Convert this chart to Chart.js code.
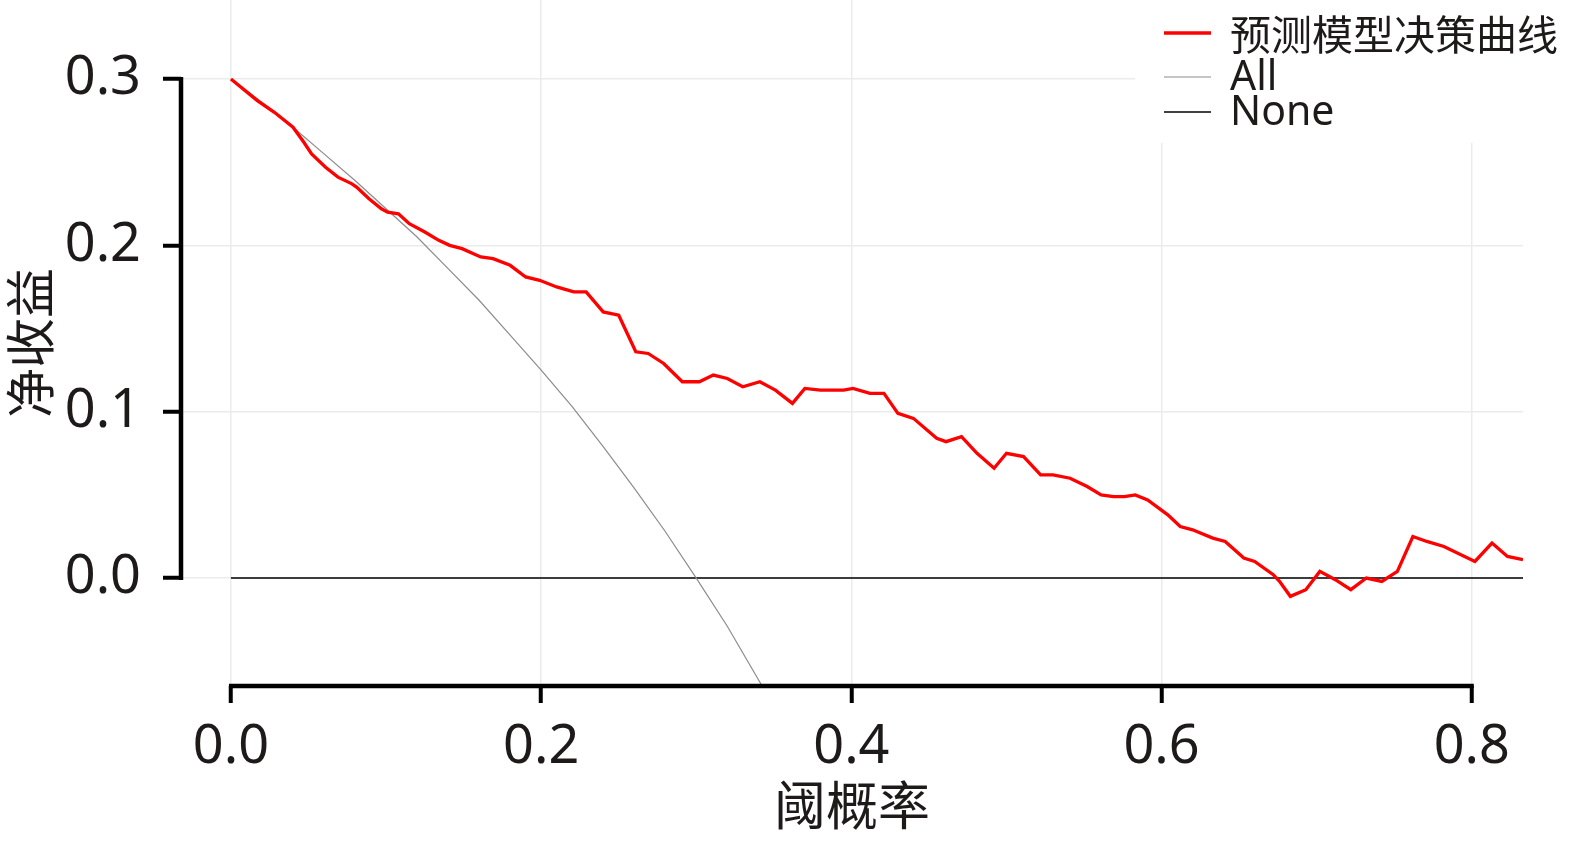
<!DOCTYPE html>
<html>
<head>
<meta charset="utf-8">
<script src="https://cdn.jsdelivr.net/npm/chart.js@4.4.0/dist/chart.umd.min.js"></script>
<style>
    html, body { margin: 0; padding: 0; background: #fff; }
    #wrap { width: 1571px; height: 845px; }
</style>
</head>
<body>
<div id="wrap"><canvas id="dcaChart" width="1571" height="845"></canvas></div>
<script>
// Decision curve values
const thresholds = [0.000, 0.017, 0.028, 0.040, 0.047, 0.052, 0.061, 0.069, 0.078, 0.081,
    0.089, 0.097, 0.101, 0.108, 0.115, 0.125, 0.134, 0.141, 0.149, 0.161,
    0.169, 0.180, 0.190, 0.199, 0.210, 0.221, 0.229, 0.240, 0.250, 0.261,
    0.269, 0.279, 0.291, 0.302, 0.311, 0.320, 0.330, 0.341, 0.351, 0.362,
    0.370, 0.380, 0.395, 0.401, 0.412, 0.421, 0.430, 0.440, 0.455, 0.461,
    0.471, 0.481, 0.492, 0.500, 0.511, 0.522, 0.530, 0.541, 0.552, 0.561,
    0.569, 0.576, 0.583, 0.591, 0.604, 0.612, 0.620, 0.633, 0.641, 0.653,
    0.660, 0.672, 0.676, 0.683, 0.693, 0.702, 0.712, 0.722, 0.732, 0.742,
    0.752, 0.762, 0.771, 0.782, 0.802, 0.813, 0.823, 0.833];
const modelBenefit = [0.300, 0.287, 0.280, 0.271, 0.262, 0.255, 0.247, 0.241, 0.237, 0.235,
    0.228, 0.222, 0.220, 0.219, 0.213, 0.208, 0.203, 0.200, 0.198, 0.193,
    0.192, 0.188, 0.181, 0.179, 0.175, 0.172, 0.172, 0.160, 0.158, 0.136,
    0.135, 0.129, 0.118, 0.118, 0.122, 0.120, 0.115, 0.118, 0.113, 0.105,
    0.114, 0.113, 0.113, 0.114, 0.111, 0.111, 0.099, 0.096, 0.084, 0.082,
    0.085, 0.075, 0.066, 0.075, 0.073, 0.062, 0.062, 0.060, 0.055, 0.050,
    0.049, 0.049, 0.050, 0.047, 0.038, 0.031, 0.029, 0.024, 0.022, 0.012,
    0.010, 0.002, -0.002, -0.011, -0.007, 0.004, -0.001, -0.007, 0.000, -0.002,
    0.004, 0.025, 0.022, 0.019, 0.010, 0.021, 0.013, 0.011];

const allX = [0.00, 0.02, 0.04, 0.06, 0.08, 0.10, 0.12, 0.14, 0.16, 0.18,
    0.20, 0.22, 0.24, 0.26, 0.28, 0.30, 0.32, 0.34, 0.35];
const allBenefit = [0.300, 0.286, 0.271, 0.255, 0.239, 0.222, 0.205, 0.186, 0.167, 0.146,
    0.125, 0.103, 0.079, 0.054, 0.028, 0.000, -0.029, -0.061, -0.077];

const noneX = [0.0, 0.833];
const noneBenefit = [0.0, 0.0];

const xTicks = [0.0, 0.2, 0.4, 0.6, 0.8];
const yTicks = [0.0, 0.1, 0.2, 0.3];
const seriesLabels = ['预测模型决策曲线', 'All', 'None'];

const toPoints = (xs, ys) => xs.map((x, i) => ({ x: x, y: ys[i] }));

const latinFont = '"Noto Sans", "Noto Sans CJK SC", sans-serif';
const cjkFont = '"Noto Sans CJK SC", "Noto Sans", sans-serif';
const textColor = '#1e1a1a';

// trimmed spines like seaborn despine(trim=True)
const spinePlugin = {
    id: 'spines',
    afterDatasetsDraw(chart) {
        const { ctx, scales: { x, y }, chartArea } = chart;
        ctx.save();
        ctx.strokeStyle = '#000';
        ctx.lineWidth = 4.5;
        ctx.lineCap = 'butt';
        ctx.beginPath();
        ctx.moveTo(chartArea.left, y.getPixelForValue(yTicks[yTicks.length - 1]) - 2);
        ctx.lineTo(chartArea.left, y.getPixelForValue(yTicks[0]) + 2);
        ctx.moveTo(x.getPixelForValue(xTicks[0]) - 2, chartArea.bottom);
        ctx.lineTo(x.getPixelForValue(xTicks[xTicks.length - 1]) + 2, chartArea.bottom);
        ctx.stroke();
        ctx.restore();
    }
};

const legendPlugin = {
    id: 'cornerLegend',
    afterDatasetsDraw(chart) {
        const ctx = chart.ctx;
        const rows = [33, 77, 112];
        ctx.save();
        ctx.fillStyle = '#fff';
        ctx.fillRect(1135, 0, 436, 143);
        chart.data.datasets.forEach((ds, i) => {
            ctx.strokeStyle = ds.borderColor;
            ctx.lineWidth = ds.borderWidth;
            ctx.beginPath();
            ctx.moveTo(1164, rows[i]);
            ctx.lineTo(1211, rows[i]);
            ctx.stroke();
            ctx.fillStyle = textColor;
            ctx.font = '41px ' + (i === 0 ? cjkFont : latinFont);
            ctx.textBaseline = 'middle';
            ctx.textAlign = 'left';
            ctx.fillText(ds.label, 1230, rows[i] + 1);
        });
        ctx.restore();
    }
};

const ctx = document.getElementById('dcaChart').getContext('2d');
new Chart(ctx, {
    type: 'line',
    data: {
        datasets: [{
            label: seriesLabels[0],
            data: toPoints(thresholds, modelBenefit),
            borderColor: '#ff0000',
            borderWidth: 3.3,
            pointRadius: 0,
            tension: 0
        }, {
            label: seriesLabels[1],
            data: toPoints(allX, allBenefit),
            borderColor: '#8c8c8c',
            borderWidth: 1.2,
            pointRadius: 0,
            tension: 0
        }, {
            label: seriesLabels[2],
            data: toPoints(noneX, noneBenefit),
            borderColor: '#000000',
            borderWidth: 1.5,
            pointRadius: 0,
            tension: 0
        }]
    },
    options: {
        responsive: false,
        animation: false,
        devicePixelRatio: 1,
        layout: { padding: { left: 0, right: 48, top: 0, bottom: 0 } },
        scales: {
            x: {
                type: 'linear',
                min: -0.0322,
                max: 0.833,
                afterBuildTicks: s => { s.ticks = xTicks.map(v => ({ value: v })); },
                afterFit: s => { s.height = 159; s.paddingLeft = 0; s.paddingRight = 0; },
                border: { display: false },
                grid: {
                    color: '#ebebeb',
                    lineWidth: 1.5,
                    tickColor: '#000',
                    tickWidth: 4,
                    tickLength: 17
                },
                ticks: {
                    padding: 12,
                    color: textColor,
                    font: { family: latinFont, size: 54 },
                    maxRotation: 0,
                    callback: v => v.toFixed(1)
                },
                title: {
                    display: true,
                    text: '阈概率',
                    color: textColor,
                    font: { family: cjkFont, size: 52 },
                    padding: { top: 0, bottom: 9 }
                }
            },
            y: {
                min: -0.0649,
                max: 0.3475,
                afterBuildTicks: s => { s.ticks = yTicks.map(v => ({ value: v })); },
                afterFit: s => { s.width = 181; s.paddingTop = 0; s.paddingBottom = 0; },
                border: { display: false },
                grid: {
                    color: '#ebebeb',
                    lineWidth: 1.5,
                    tickColor: '#000',
                    tickWidth: 4,
                    tickLength: 18
                },
                ticks: {
                    padding: 22,
                    color: textColor,
                    font: { family: latinFont, size: 54 },
                    callback: v => v.toFixed(1)
                },
                title: {
                    display: true,
                    text: '净收益',
                    color: textColor,
                    font: { family: cjkFont, size: 50 },
                    padding: { top: 0, bottom: 0 }
                }
            }
        },
        plugins: {
            legend: { display: false },
            tooltip: { enabled: false }
        }
    },
    plugins: [spinePlugin, legendPlugin]
});
</script>
</body>
</html>
